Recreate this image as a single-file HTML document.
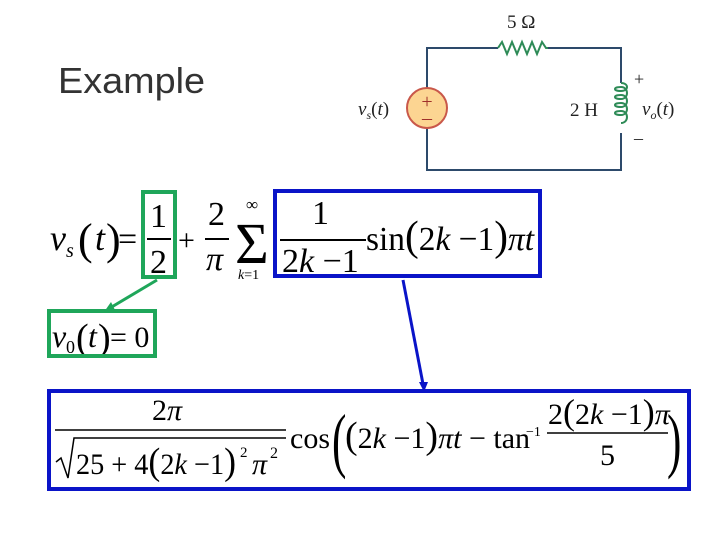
<!DOCTYPE html>
<html><head><meta charset="utf-8"><style>
html,body{margin:0;padding:0;background:#fff;width:720px;height:540px;overflow:hidden}
svg{display:block}
.m{font-family:"Liberation Serif",serif}
</style></head><body>
<svg width="720" height="540" viewBox="0 0 720 540" xmlns="http://www.w3.org/2000/svg">
<text x="58" y="93" font-family="Liberation Sans, sans-serif" font-size="36" fill="#333" textLength="147" lengthAdjust="spacingAndGlyphs">Example</text>

<!-- circuit -->
<g fill="none" stroke="#2d4a6b" stroke-width="2">
<polyline points="498,48 427,48 427,88"/>
<polyline points="427,128 427,170 621,170 621,133"/>
<polyline points="548,48 621,48 621,83"/>
</g>
<polyline points="498,48 502,42 507,54 512,42 517,54 522,42 527,54 532,42 537,54 542,42 546,48 548,48" fill="none" stroke="#2e8b57" stroke-width="2"/>
<path d="M621,83 c8,0 8,8 0,8 c-8,0 -8,-4 0,-4 c8,0 8,12 0,12 c-8,0 -8,-4 0,-4 c8,0 8,12 0,12 c-8,0 -8,-4 0,-4 c8,0 8,12 0,12 c-8,0 -8,-4 0,-4 c8,0 8,12 0,12" fill="none" stroke="#2e8b57" stroke-width="2"/>
<circle cx="427" cy="108" r="20" fill="#fcd592" stroke="#c9584a" stroke-width="2"/>
<text x="427" y="108" class="m" font-size="20" fill="#a0302a" text-anchor="middle">+</text>
<text x="427" y="124" class="m" font-size="20" fill="#a0302a" text-anchor="middle">–</text>
<text x="507" y="28" class="m" font-size="19" fill="#222">5 Ω</text>
<text x="570" y="116" class="m" font-size="19" fill="#222">2 H</text>
<text x="358" y="115" class="m" font-size="19" fill="#222" font-style="italic">v<tspan font-size="12" dy="4">s</tspan><tspan font-style="normal" dy="-4">(</tspan>t<tspan font-style="normal">)</tspan></text>
<text x="642" y="115" class="m" font-size="19" fill="#222" font-style="italic">v<tspan font-size="12" dy="4">o</tspan><tspan font-style="normal" dy="-4">(</tspan>t<tspan font-style="normal">)</tspan></text>
<text x="634" y="85" class="m" font-size="18" fill="#222">+</text>
<text x="634" y="144" class="m" font-size="18" fill="#222">–</text>

<!-- top equation -->
<g class="m" fill="#000">
<text x="50" y="250" font-size="36" font-style="italic">v</text>
<text x="66" y="257" font-size="20" font-style="italic">s</text>
<text x="78" y="254" font-size="44">(</text>
<text x="95" y="250" font-size="36" font-style="italic">t</text>
<text x="106" y="254" font-size="44">)</text>
<text x="118" y="250" font-size="34">=</text>
<text x="150" y="227" font-size="34">1</text>
<line x1="147" y1="239" x2="171" y2="239" stroke="#000" stroke-width="2"/>
<text x="150" y="273" font-size="34">2</text>
<text x="178" y="250" font-size="30">+</text>
<text x="208" y="225" font-size="34">2</text>
<line x1="205" y1="239" x2="229" y2="239" stroke="#000" stroke-width="2"/>
<text x="206" y="270" font-size="34" font-style="italic">π</text>
<text x="235" y="263" font-size="58">Σ</text>
<text x="246" y="210" font-size="17">∞</text>
<text x="238" y="279" font-size="14"><tspan font-style="italic">k</tspan>=1</text>
<text x="312" y="224" font-size="34">1</text>
<line x1="280" y1="240" x2="366" y2="240" stroke="#000" stroke-width="2"/>
<text x="282" y="272" font-size="34">2<tspan font-style="italic">k</tspan> −1</text>
<text x="366" y="250" font-size="34" textLength="168" lengthAdjust="spacingAndGlyphs">sin<tspan font-size="42">(</tspan>2<tspan font-style="italic">k</tspan> −1<tspan font-size="42">)</tspan><tspan font-style="italic">πt</tspan></text>

<text x="52" y="347" font-size="32" font-style="italic">v</text>
<text x="66" y="353" font-size="18">0</text>
<text x="76" y="350" font-size="38">(</text>
<text x="88" y="347" font-size="32" font-style="italic">t</text>
<text x="98" y="350" font-size="38">)</text>
<text x="110" y="347" font-size="30">= 0</text>
</g>
<rect x="143" y="192" width="32" height="85" fill="none" stroke="#1fa65a" stroke-width="4"/>
<rect x="49" y="311" width="106" height="45" fill="none" stroke="#1fa65a" stroke-width="4"/>
<rect x="275" y="191" width="265" height="85" fill="none" stroke="#0a14c8" stroke-width="4"/>
<line x1="157" y1="280" x2="110" y2="308" stroke="#1fa65a" stroke-width="3"/>
<polygon points="104,312 111,302 115,310" fill="#1fa65a"/>
<line x1="403" y1="280" x2="423" y2="384" stroke="#0a14c8" stroke-width="3"/>
<polygon points="424,392 419,382 428,382" fill="#0a14c8"/>

<!-- bottom -->
<rect x="49" y="391" width="640" height="98" fill="none" stroke="#0a14c8" stroke-width="4"/>
<g class="m" fill="#000">
<text x="152" y="420" font-size="30">2<tspan font-style="italic">π</tspan></text>
<line x1="55" y1="430" x2="286" y2="430" stroke="#000" stroke-width="1.5"/>
<polyline points="56,462 61,458 68,478 74,438 286,438" fill="none" stroke="#000" stroke-width="1.5"/>
<text x="76" y="474" font-size="30" textLength="160" lengthAdjust="spacingAndGlyphs">25 + 4<tspan font-size="38">(</tspan>2<tspan font-style="italic">k</tspan> −1<tspan font-size="38">)</tspan></text>
<text x="240" y="457" font-size="15">2</text>
<text x="252" y="474" font-size="30" font-style="italic">π</text>
<text x="270" y="458" font-size="16">2</text>
<text x="290" y="448" font-size="30">cos</text>
<text x="332" y="464" font-size="72" transform="scale(0.6,1)" transform-origin="332 464">(</text>
<text x="345" y="448" font-size="30"><tspan font-size="38">(</tspan>2<tspan font-style="italic">k</tspan> −1<tspan font-size="38">)</tspan><tspan font-style="italic">πt</tspan> − tan</text>
<text x="526" y="436" font-size="14">−1</text>
<text x="548" y="424" font-size="30">2<tspan font-size="36">(</tspan>2<tspan font-style="italic">k</tspan> −1<tspan font-size="36">)</tspan><tspan font-style="italic">π</tspan></text>
<line x1="547" y1="433" x2="668" y2="433" stroke="#000" stroke-width="1.5"/>
<text x="600" y="465" font-size="30">5</text>
<text x="667" y="464" font-size="72" transform="scale(0.6,1)" transform-origin="667 464">)</text>
</g>
</svg>
</body></html>
